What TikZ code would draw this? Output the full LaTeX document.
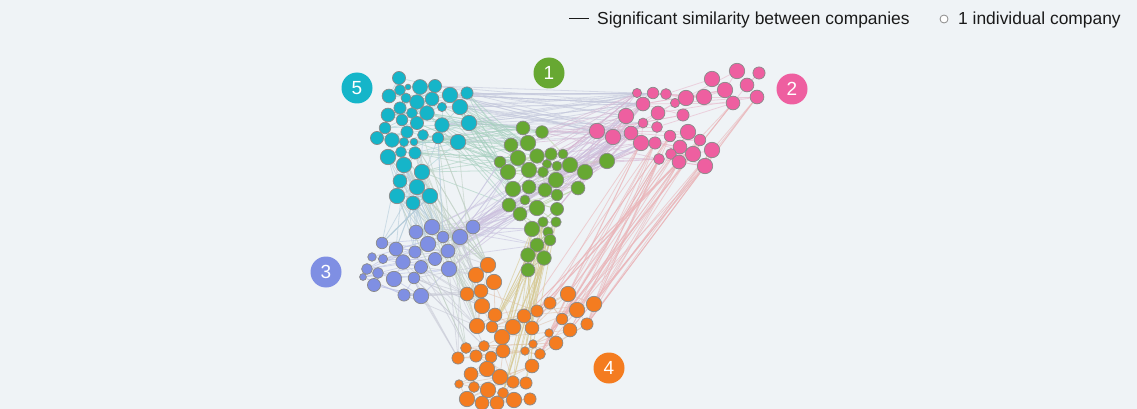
\documentclass[tikz,border=0pt]{standalone}
\usepackage{fontspec}
\setmainfont{Liberation Sans}
\pgfdeclarelayer{back}
\pgfdeclarelayer{edges}
\pgfsetlayers{back,edges,main}
\definecolor{bgc}{HTML}{EFF3F6}
\definecolor{cA}{HTML}{67A832}
\definecolor{cB}{HTML}{EE5FA0}
\definecolor{cC}{HTML}{7F8FE3}
\definecolor{cD}{HTML}{F47C20}
\definecolor{cE}{HTML}{15B5C9}
\definecolor{nodeline}{HTML}{8A8A8A}
\definecolor{txt}{HTML}{1A1A1A}
\definecolor{e55}{HTML}{A9D3D6}
\definecolor{e11}{HTML}{B8CFA0}
\definecolor{e22}{HTML}{E8B8CC}
\definecolor{e33}{HTML}{BCC2E6}
\definecolor{e44}{HTML}{E0C4B0}
\definecolor{e52}{HTML}{C4C8DC}
\definecolor{e51}{HTML}{A8D0C0}
\definecolor{e12}{HTML}{D6B8D4}
\definecolor{e31}{HTML}{C8C4E0}
\definecolor{e32}{HTML}{CCC0DE}
\definecolor{e42}{HTML}{EAB4B8}
\definecolor{e41}{HTML}{D6C890}
\definecolor{e45}{HTML}{C0D0C4}
\definecolor{e43}{HTML}{C8CAD6}
\definecolor{e35}{HTML}{B4CCDA}
\tikzset{
  cnode/.style={circle, draw=nodeline, line width=0.7pt, inner sep=0pt},
  badge/.style={circle, minimum size=31pt, inner sep=0pt, text=white, font=\fontsize{19}{22}\selectfont},
  edge/.style={line width=0.8pt, draw opacity=0.6},
  legtext/.style={anchor=base west, inner sep=0pt, text=txt, font=\fontsize{17.4}{20}\selectfont},
}
\newcommand\mkedges[8]{%
  \foreach \k in {1,...,#1}{%
    \pgfmathtruncatemacro\ea{{#3}[random(0,#4)]}%
    \pgfmathtruncatemacro\eb{{#6}[random(0,#7)]}%
    \draw[edge,draw=#8] (n#2-\ea) -- (n#5-\eb);}}
\newcommand\inedges[3]{%
  \foreach \i in {1,...,#2}{%
    \pgfmathtruncatemacro\ja{min(#2+1,\i+random(1,4))}%
    \pgfmathtruncatemacro\jb{min(#2+1,\i+random(2,7))}%
    \draw[edge,draw=#3] (n#1-\i) -- (n#1-\ja);
    \draw[edge,draw=#3] (n#1-\i) -- (n#1-\jb);}}
\begin{document}
\begin{tikzpicture}[x=1pt,y=-1pt]
\begin{pgfonlayer}{back}
\fill[bgc] (0,0) rectangle (1137,409);
\end{pgfonlayer}
\useasboundingbox (0,0) rectangle (1137,409);
% cluster 5 (cyan)
\foreach [count=\i] \x/\y/\s in {399/78/5.7,400/90/4.7,408/87/2.5,420/87/6.5,435/86/5.7,389/96/6,406/98/4.3,417/102/6.3,432/99/6,450/95/6.7,467/93/5.3,400/108/5.3,412/113/4.7,427/113/6.3,442/107/4,460/107/6.7,388/115/6,402/120/5,417/123/5.7,442/125/6.3,469/123/6.7,385/128/5,407/132/5.3,423/135/4.7,377/138/5.7,392/140/6.3,404/142/4,414/142/3.3,438/138/5,458/142/6.7,401/152/4.7,415/153/5.3,388/157/6.7,404/165/6.7,422/172/6.7,400/181/6,417/187/6.7,397/196/6.7,413/203/6,430/196/6.7}
  \node[cnode, fill=cE, minimum size=2.3*\s pt] (nE-\i) at (\x,\y) {};
% cluster 1 (green)
\foreach [count=\i] \x/\y/\s in {523/128/6,542/132/5.5,511/145/6,528/143/6.7,500/162/5,518/158/6.7,537/156/6.3,551/154/5.3,563/154/4.3,547/164/4,557/166/4.3,570/165/6.7,585/172/6.7,607/161/6.7,508/172/6.7,529/170/6.7,543/172/4.7,556/180/6.7,513/189/6.7,529/187/6,545/190/6,557/195/5,578/188/6,509/205/6,525/200/4.3,537/208/6.7,557/209/5.7,520/214/6,543/222/4.5,556/222/4.5,532/229/6.7,548/232/4.5,537/245/6,550/240/5,528/255/6.3,544/258/6.3,528/270/6}
  \node[cnode, fill=cA, minimum size=2.3*\s pt] (nA-\i) at (\x,\y) {};
% cluster 2 (pink)
\foreach [count=\i] \x/\y/\s in {637/93/4,653/93/5,666/94/4.7,686/98/6.7,704/97/6.7,712/79/6.7,737/71/6.7,759/73/5.3,725/90/6.7,747/85/6,757/97/6,733/103/6,643/104/6,675/103/4,658/113/6,683/115/5.3,626/116/6.7,643/123/4.3,657/127/4.7,597/131/6.7,613/137/6.7,631/133/6,670/136/5,688/132/6.7,641/143/6.7,655/143/5.3,680/147/6,700/140/5,671/154/4.7,659/159/4.7,679/162/6,693/154/6.7,712/150/6.7,705/166/6.7}
  \node[cnode, fill=cB, minimum size=2.3*\s pt] (nB-\i) at (\x,\y) {};
% cluster 3 (blue)
\foreach [count=\i] \x/\y/\s in {432/227/6.7,416/232/6,443/237/5,460/237/6.7,473/227/6,382/243/5,396/249/6,415/252/5.3,428/244/6.7,448/251/6,372/257/3.7,383/259/4,403/262/6.3,421/267/5.7,435/259/5.7,367/269/4.7,378/273/4.7,394/279/6.7,414/278/5,449/269/6.7,363/277/3,374/285/5.7,404/295/5.3,421/296/6.7}
  \node[cnode, fill=cC, minimum size=2.3*\s pt] (nC-\i) at (\x,\y) {};
% cluster 4 (orange)
\foreach [count=\i] \x/\y/\s in {488/265/6.7,476/275/6.7,494/282/6.7,467/294/6,481/291/6,482/306/6.7,495/315/6,477/326/6.7,492/327/5,513/327/6.7,524/316/6,537/311/5.3,532/328/6,550/303/5.3,568/294/6.7,577/310/6.7,594/304/6.7,562/319/5,570/330/6,587/324/5.3,549/333/3.7,556/343/6,533/344/3.7,525/351/3.7,540/354/4.7,502/337/6.7,466/348/4.7,458/358/5.3,484/346/4.7,476/356/5.3,491/357/5,503/351/6,487/369/6.7,471/374/6,500/377/6.7,513/382/5.3,526/383/5.3,532/366/6,459/384/3.7,474/387/4.7,488/390/6.7,503/393/4.7,467/399/6.7,482/403/6,497/403/6,514/400/6.7,530/399/5.3}
  \node[cnode, fill=cD, minimum size=2.3*\s pt] (nD-\i) at (\x,\y) {};
% edges
\begin{pgfonlayer}{edges}
\pgfmathsetseed{11}
\inedges{E}{39}{e55}
\inedges{A}{36}{e11}
\inedges{B}{33}{e22}
\inedges{C}{23}{e33}
\inedges{D}{46}{e44}
% cyan - pink
\mkedges{40}{E}{5,9,10,11,15,16,20,21,29,30,11,10}{11}{B}{1,2,13,17,20,21,22,1,13,3,18}{10}{e52}
% cyan - green
\mkedges{55}{E}{10,11,15,16,20,21,29,30,14,24,19,28,32,35}{13}{A}{1,3,5,6,15,19,24,28,4,16,2,7}{11}{e51}
% green - pink
\mkedges{50}{A}{2,8,9,12,13,14,23,18,22,27,7,4,16}{12}{B}{17,20,21,22,25,18,13,26,30,1,2}{10}{e12}
% blue - green
\mkedges{25}{C}{1,3,4,5,10,15,20}{6}{A}{15,19,24,28,31,5,26,33}{7}{e31}
% blue - pink
\mkedges{22}{C}{1,3,4,5,10,15,20}{6}{B}{20,21,22,25,17,18}{5}{e32}
% orange - pink
\mkedges{50}{D}{14,15,16,17,18,19,20,21,22,12,25,11,13}{12}{B}{29,30,31,32,33,34,27,28,12,24,11,25,26,23}{13}{e42}
% orange - green
\mkedges{35}{D}{10,11,13,24,26,32,35,36,37,9,38,42}{11}{A}{31,32,33,34,35,36,37,29,30}{8}{e41}
% orange - cyan
\mkedges{30}{D}{1,2,3,4,5,6,8,27}{7}{E}{24,28,29,30,31,32,33,34,35,36,37,38,39,40}{13}{e45}
% orange - blue
\mkedges{30}{D}{1,2,4,5,8,27,28,6,29}{8}{C}{4,10,15,20,14,19,23,24,13}{8}{e43}
% blue - cyan
\mkedges{30}{C}{1,2,6,7,9,8,3}{6}{E}{31,32,33,34,35,36,37,38,39,40,29,24}{11}{e35}
\end{pgfonlayer}
% badges
\node[badge, fill=cA] (b1) at (549,73) {1};
\node[badge, fill=cB] (b2) at (792,89) {2};
\node[badge, fill=cC] (b3) at (326,272) {3};
\node[badge, fill=cD] (b4) at (609,368) {4};
\node[badge, fill=cE] (b5) at (357,88) {5};
% legend
\coordinate (la) at (569,19);
\coordinate (lb) at (589,19);
\draw[line width=1pt, txt] (la) -- (lb);
\node[legtext] (lt1) at (597,25) {Significant similarity between companies};
\node[circle, draw=nodeline, fill=white, line width=0.8pt, minimum size=8pt, inner sep=0pt] (lc) at (944,19) {};
\node[legtext] (lt2) at (958,25) {1 individual company};
\end{tikzpicture}
\end{document}
